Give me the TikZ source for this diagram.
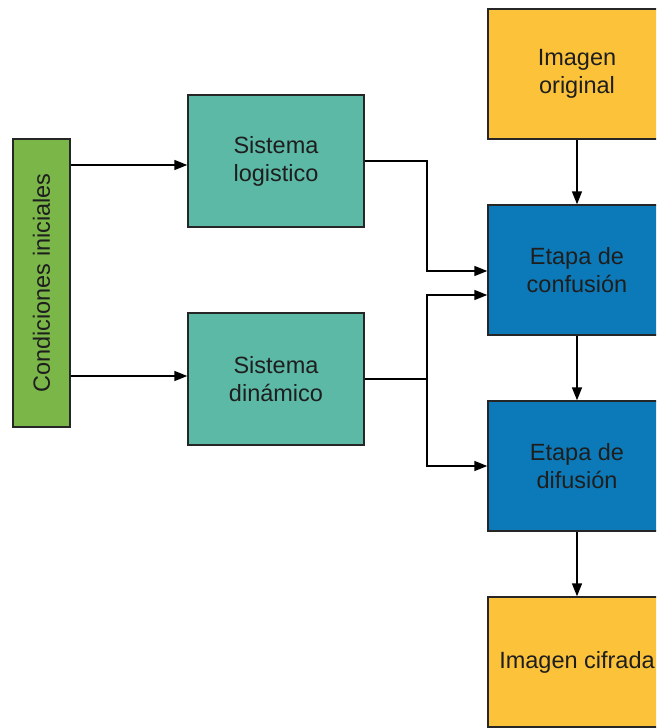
\documentclass[tikz,border=0pt]{standalone}
\usepackage{fontspec}
\setmainfont{Liberation Sans}
\usetikzlibrary{arrows.meta,calc}
\definecolor{cgreen}{HTML}{7AB648}
\definecolor{cteal}{HTML}{5CB9A6}
\definecolor{cblue}{HTML}{0C7AB9}
\definecolor{cyellow}{HTML}{FBC23A}
\definecolor{ctext}{HTML}{1E1E1E}
\begin{document}
\begin{tikzpicture}[x=1pt,y=-1pt,
  box/.style={draw=black!85,line width=1.4pt,rectangle,inner sep=0pt,align=center,
    text=ctext,font=\fontsize{23.5}{28}\selectfont},
  conn/.style={draw=black,line width=1.6pt,-{Triangle[length=13pt,width=10pt]}},
  plain/.style={draw=black,line width=1.6pt}]
\useasboundingbox (0,0) rectangle (656,728);
\clip (0,0) rectangle (656,728);
\fill[white] (0,0) rectangle (656,728);
% nodes
\node[box,fill=cgreen,minimum width=57pt,minimum height=288pt] (cond) at (41.5,283)
  {\rotatebox{90}{Condiciones iniciales}};
\node[box,fill=cteal,minimum width=176pt,minimum height=132pt] (log) at (276,161) {Sistema\\logistico};
\node[box,fill=cteal,minimum width=176pt,minimum height=132pt] (din) at (276,379) {Sistema\\dinámico};
\node[box,fill=cyellow,minimum width=178pt,minimum height=130pt] (orig) at (577,74) {Imagen\\original};
\node[box,fill=cblue,minimum width=178pt,minimum height=130pt] (conf) at (577,270) {Etapa de\\confusión};
\node[box,fill=cblue,minimum width=178pt,minimum height=130pt] (dif) at (577,466) {Etapa de\\difusión};
\node[box,fill=cyellow,minimum width=178pt,minimum height=130pt] (cif) at (577,662) {Imagen cifrada};
% junction coordinates
\coordinate (jx) at (427,0);
\coordinate (j) at (jx |- din.east);
% connectors
\draw[conn] ($(cond.east)+(0,-118)$) -- ($(log.west)+(0,4)$);
\draw[conn] ($(cond.east)+(0,93)$) -- ($(din.west)+(0,-3)$);
\draw[conn] (log.east) -| ($(jx)+(0,271)$) -- ($(conf.west)+(0,1)$);
\draw[plain] (din.east) -- (j);
\draw[conn] (j) -- ($(jx)+(0,295)$) -- ($(conf.west)+(0,25)$);
\draw[conn] (j) |- (dif.west);
\draw[conn] (orig.south) -- (conf.north);
\draw[conn] (conf.south) -- (dif.north);
\draw[conn] (dif.south) -- (cif.north);
\end{tikzpicture}
\end{document}
